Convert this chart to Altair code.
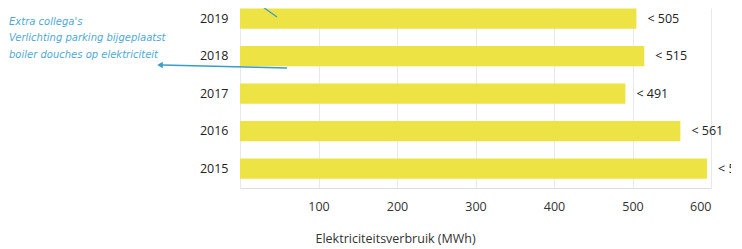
import altair as alt
import pandas as pd

years = ["2019", "2018", "2017", "2016", "2015"]
values = [505, 515, 491, 561, 595]
labels = ["< 505", "< 515", "< 491", "< 561", "< 595"]
x_ticks = [0, 100, 200, 300, 400, 500, 600]
notes = ["Extra collega's", "Verlichting parking bijgeplaatst", "boiler douches op elektriciteit"]
note_y = [14, 30, 47]

df = pd.DataFrame({"year": years, "value": values, "label": labels})

yscale = alt.Scale(domain=years, paddingInner=0.46, paddingOuter=0.13, align=0.05)
xscale = alt.Scale(domain=[0, 600], nice=False)

base = alt.Chart(df)

bars = base.mark_bar(color="#EEE344").encode(
    x=alt.X("value:Q", scale=xscale,
            axis=alt.Axis(values=x_ticks, title="Elektriciteitsverbruik (MWh)",
                          labelExpr="datum.value == 0 ? '' : datum.label",
                          grid=True, gridColor="#e8e8e8", ticks=False,
                          domainColor="#dddddd", labelFont="Open Sans", labelFontSize=12.5,
                          labelColor="#333333", labelPadding=12,
                          titleFont="Open Sans", titleFontSize=12.5, titleFontWeight="normal",
                          titleColor="#333333", titleAnchor="start", titleX=75, titleY=50,
                          titleBaseline="middle")),
    y=alt.Y("year:N", scale=yscale, sort=years,
            axis=alt.Axis(title=None, ticks=False, domain=False, labelFont="Open Sans",
                          labelFontSize=12.5, labelColor="#222222", labelPadding=12)),
)

text = base.mark_text(align="left", baseline="middle", dx=11, font="Open Sans",
                      fontSize=12.5, color="#222222").encode(
    x=alt.X("value:Q", scale=xscale),
    y=alt.Y("year:N", scale=yscale, sort=years),
    text="label:N",
)

one = pd.DataFrame({"k": [0]})
note_layers = []
for n, yy in zip(notes, note_y):
    note_layers.append(
        alt.Chart(one).mark_text(
            align="left", baseline="middle", font="DejaVu Sans", fontStyle="italic",
            fontSize=10, color="#4FA9D4", text=n,
        ).encode(x=alt.value(-231), y=alt.value(yy))
    )

arrow1 = alt.Chart(one).mark_rule(color="#3A9CC9", strokeWidth=1.5).encode(
    x=alt.value(47), x2=alt.value(-78), y=alt.value(60), y2=alt.value(57))
head1 = alt.Chart(one).mark_point(
    shape="triangle-left", filled=True, color="#3A9CC9", size=40, opacity=1).encode(
    x=alt.value(-80), y=alt.value(57))
arrow2 = alt.Chart(one).mark_rule(color="#3A9CC9", strokeWidth=1.2).encode(
    x=alt.value(13), x2=alt.value(37), y=alt.value(-8), y2=alt.value(9))

chart = alt.layer(bars, text, *note_layers, arrow1, head1, arrow2).properties(
    width=471, height=180,
    autosize=alt.AutoSizeParams(type="none"),
    padding={"left": 232, "top": 0, "right": 20, "bottom": 58},
).configure_view(stroke=None)

chart.save("out.html", embed_options={"renderer": "svg", "actions": False})
